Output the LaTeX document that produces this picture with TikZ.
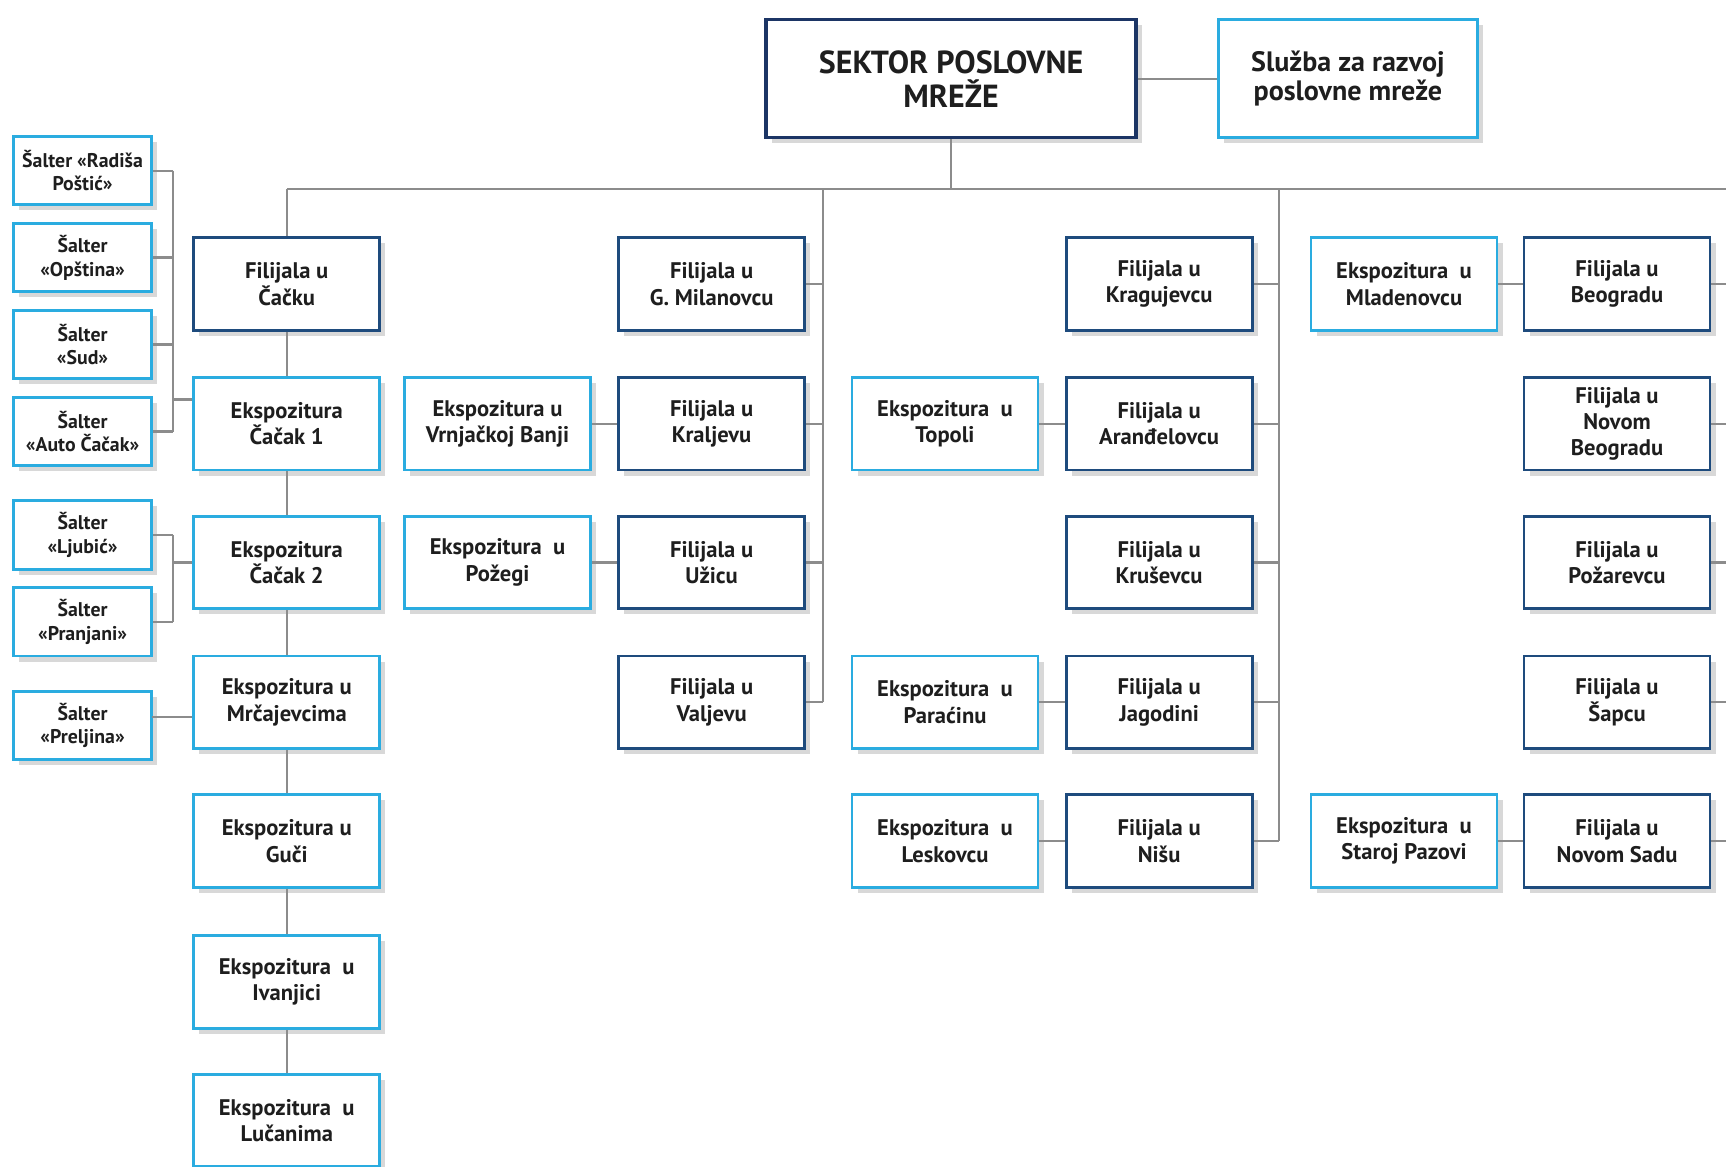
\documentclass[tikz,border=0pt]{standalone}
\usepackage{fontspec}
\setmainfont{PT Sans}
\usetikzlibrary{shadows}
\definecolor{dkblue}{HTML}{1E4B7D}
\definecolor{navy}{HTML}{1C3565}
\definecolor{cyanb}{HTML}{2AACE0}
\definecolor{linegray}{HTML}{8C8C8C}
\definecolor{txt}{HTML}{1E1E1E}
\tikzset{
  basebox/.style={draw, line width=2.6pt, fill=white, align=center, text=txt,
    inner sep=0pt,
    drop shadow={shadow xshift=5pt, shadow yshift=-5pt, fill=black!30, opacity=0.5},
    font=\bfseries\fontsize{20.5}{24}\selectfont},
  dbox/.style={basebox, draw=dkblue, minimum width=169pt, minimum height=84pt},
  cbox/.style={basebox, draw=cyanb, minimum width=169pt, minimum height=84pt},
  sbox/.style={basebox, draw=cyanb, minimum width=126pt, minimum height=62pt,
    font=\bfseries\fontsize{18}{21.5}\selectfont},
  link/.style={draw=linegray, line width=2pt}
}
\begin{document}
\begin{tikzpicture}[x=1pt,y=-1pt]
\useasboundingbox (0,0) rectangle (1568,1060);
\fill[white] (0,0) rectangle (1568,1060);

% top
\node[basebox, draw=navy, line width=3pt, minimum width=336pt, minimum height=107pt,
  font=\bfseries\fontsize{29}{31}\selectfont] (sek) at (864,71.5) {SEKTOR POSLOVNE\\MREŽE};
\node[cbox, minimum width=235pt, minimum height=107pt,
  font=\bfseries\fontsize{25.5}{26}\selectfont] (slu) at (1224.5,71.5) {Služba za razvoj\\poslovne mreže};

% left column
\node[dbox] (cacku) at (260.5,258) {Filijala u\\Čačku};
\node[cbox] (cac1) at (260.5,385) {Ekspozitura\\Čačak 1};
\node[cbox] (cac2) at (260.5,511) {Ekspozitura\\Čačak 2};
\node[cbox] (mrc) at (260.5,638) {Ekspozitura u\\Mrčajevcima};
\node[cbox] (guc) at (260.5,764) {Ekspozitura u\\Guči};
\node[cbox] (iva) at (260.5,892) {Ekspozitura\ \ u\\Ivanjici};
\node[cbox] (luc) at (260.5,1018) {Ekspozitura\ \ u\\Lučanima};

% salteri
\node[sbox] (s1) at (75,155) {Šalter «Radiša\\Poštić»};
\node[sbox] (s2) at (75,234) {Šalter\\«Opština»};
\node[sbox] (s3) at (75,313) {Šalter\\«Sud»};
\node[sbox] (s4) at (75,392) {Šalter\\«Auto Čačak»};
\node[sbox] (s5) at (75,486) {Šalter\\«Ljubić»};
\node[sbox] (s6) at (75,565) {Šalter\\«Pranjani»};
\node[sbox] (s7) at (75,659) {Šalter\\«Preljina»};

% column 2
\node[dbox] (mil) at (646.5,258) {Filijala u\\G. Milanovcu};
\node[dbox] (kra) at (646.5,385) {Filijala u\\Kraljevu};
\node[dbox] (uzi) at (646.5,511) {Filijala u\\Užicu};
\node[dbox] (val) at (646.5,638) {Filijala u\\Valjevu};
\node[cbox] (vrn) at (452,385) {Ekspozitura u\\Vrnjačkoj Banji};
\node[cbox] (poz) at (452,511) {Ekspozitura\ \ u\\Požegi};

% column 3
\node[dbox] (kgc) at (1053,258) {Filijala u\\Kragujevcu};
\node[dbox] (ara) at (1053,385) {Filijala u\\Aranđelovcu};
\node[dbox] (kru) at (1053,511) {Filijala u\\Kruševcu};
\node[dbox] (jag) at (1053,638) {Filijala u\\Jagodini};
\node[dbox] (nis) at (1053,764) {Filijala u\\Nišu};
\node[cbox] (top) at (858.5,385) {Ekspozitura\ \ u\\Topoli};
\node[cbox] (par) at (858.5,638) {Ekspozitura\ \ u\\Paraćinu};
\node[cbox] (les) at (858.5,764) {Ekspozitura\ \ u\\Leskovcu};

% column 4
\node[dbox] (beo) at (1469,258) {Filijala u\\Beogradu};
\node[dbox] (nbg) at (1469,385) {Filijala u\\Novom\\Beogradu};
\node[dbox] (pza) at (1469,511) {Filijala u\\Požarevcu};
\node[dbox] (sab) at (1469,638) {Filijala u\\Šapcu};
\node[dbox] (nsa) at (1469,764) {Filijala u\\Novom Sadu};
\node[cbox] (mla) at (1275.5,258) {Ekspozitura\ \ u\\Mladenovcu};
\node[cbox] (spa) at (1275.5,764) {Ekspozitura\ \ u\\Staroj Pazovi};

% bus coordinates
\coordinate (j0) at (864,172);
\coordinate (bL) at (260.5,172);
\coordinate (bR) at (1568,172);
\coordinate (b2) at (748,172);
\coordinate (b3) at (1162,172);
\coordinate (k1) at (157,155);
\coordinate (k2) at (157,486);
\coordinate (k1j) at (157,363);
\coordinate (k7) at (138,651);

\path[link] (sek.east) -- (slu.west);
\path[link] (sek.south) -- (j0);
\path[link] (bL) -- (bR);
\path[link] (bL) -- (cacku.north);
\path[link] (cacku.south) -- (cac1.north);
\path[link] (cac1.south) -- (cac2.north);
\path[link] (cac2.south) -- (mrc.north);
\path[link] (mrc.south) -- (guc.north);
\path[link] (guc.south) -- (iva.north);
\path[link] (iva.south) -- (luc.north);
% salter brackets
\path[link] (s1.east) -- (s1.east -| k1);
\path[link] (s2.east) -- (s2.east -| k1);
\path[link] (s3.east) -- (s3.east -| k1);
\path[link] (s4.east) -- (s4.east -| k1);
\path[link] (k1) -- (k1 |- s4.east);
\path[link] (k1j) -- (k1j -| cac1.west);
\path[link] (s5.east) -- (s5.east -| k2);
\path[link] (s6.east) -- (s6.east -| k2);
\path[link] (k2) -- (k2 |- s6.east);
\path[link] (k2 |- cac2.west) -- (cac2.west);
\path[link] (k7) -- (k7 -| mrc.west);
% column 2
\path[link] (b2) -- (b2 |- val.east);
\path[link] (mil.east) -- (mil.east -| b2);
\path[link] (kra.east) -- (kra.east -| b2);
\path[link] (uzi.east) -- (uzi.east -| b2);
\path[link] (val.east) -- (val.east -| b2);
\path[link] (vrn.east) -- (kra.west);
\path[link] (poz.east) -- (uzi.west);
% column 3
\path[link] (b3) -- (b3 |- nis.east);
\path[link] (kgc.east) -- (kgc.east -| b3);
\path[link] (ara.east) -- (ara.east -| b3);
\path[link] (kru.east) -- (kru.east -| b3);
\path[link] (jag.east) -- (jag.east -| b3);
\path[link] (nis.east) -- (nis.east -| b3);
\path[link] (top.east) -- (ara.west);
\path[link] (par.east) -- (jag.west);
\path[link] (les.east) -- (nis.west);
% column 4
\path[link] (beo.east) -- (beo.east -| bR);
\path[link] (nbg.east) -- (nbg.east -| bR);
\path[link] (pza.east) -- (pza.east -| bR);
\path[link] (sab.east) -- (sab.east -| bR);
\path[link] (nsa.east) -- (nsa.east -| bR);
\path[link] (mla.east) -- (beo.west);
\path[link] (spa.east) -- (nsa.west);
\end{tikzpicture}
\end{document}
